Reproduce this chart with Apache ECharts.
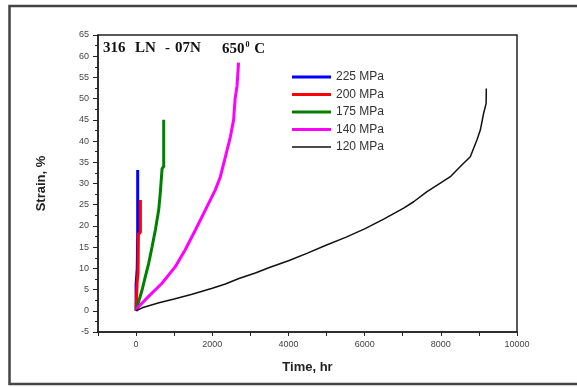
<!DOCTYPE html>
<html>
<head>
<meta charset="utf-8">
<script src="https://cdn.jsdelivr.net/npm/echarts@6/dist/echarts.min.js"></script>
<style>html,body{margin:0;padding:0;background:#fff}#c{width:577px;height:387px}</style>
</head>
<body>
<div id="c"></div>
<script>
// Series names
var seriesNames = ['225 MPa', '200 MPa', '175 MPa', '140 MPa', '120 MPa'];
// 225 MPa
var t225 = [0, 0, 0, 30, 42, 42];
var s225 = [0, 3, 6.2, 10, 18, 33.2];
// 200 MPa
var t200 = [0, 26, 52, 60, 113, 113];
var s200 = [0, 6.5, 9, 18, 18.5, 26.1];
// 175 MPa
var t175 = [0, 70, 157, 244, 331, 420, 507, 594, 638, 682, 725, 725];
var s175 = [0, 2.2, 4.9, 8.1, 11.2, 15.1, 19.1, 23.8, 28.1, 33.5, 34, 45];
// 140 MPa
var t140 = [0, 70, 330, 680, 1030, 1290, 1560, 1820, 2080, 2213, 2344, 2475, 2560, 2600, 2650, 2690];
var s140 = [0, 1.0, 3.4, 6.5, 10.4, 14.4, 19.1, 23.8, 28.5, 31.6, 36.3, 41, 45, 50, 53, 58.5];
// 120 MPa
var t120 = [0, 50, 160, 600, 1000, 1470, 2000, 2344, 2700, 3131, 3500, 4000, 4500, 5000, 5500, 6000, 6500, 7024, 7286, 7638, 7987, 8250, 8512, 8774, 8950, 9037, 9123, 9190, 9194];
var s120 = [0, 0.4, 0.7, 1.9, 2.8, 3.9, 5.3, 6.3, 7.6, 8.9, 10.2, 11.8, 13.6, 15.5, 17.3, 19.3, 21.6, 24.2, 25.7, 28.1, 30.1, 31.6, 34.0, 36.3, 40.3, 42.6, 46.5, 48.9, 52.4];
// Axis settings
var xMin = -1000, xMax = 10000, xStep = 1000;
var yMin = -5, yMax = 65, yStep = 5;

var allT = [t225, t200, t175, t140, t120];
var allS = [s225, s200, s175, s140, s120];
var colors = ['#0000ff', '#ff0000', '#008000', '#ff00ff', '#111111'];
var widths = [3, 3, 3, 3, 1.5];

function pairs(t, s) { return t.map(function (v, i) { return [v, s[i]]; }); }

var series = seriesNames.map(function (n, i) {
  return {
    name: n, type: 'line', data: pairs(allT[i], allS[i]),
    symbol: 'none', smooth: false, animation: false,
    lineStyle: { color: colors[i], width: widths[i] },
    itemStyle: { color: colors[i] }
  };
});

var legendData = seriesNames.map(function (n, i) {
  return { name: n, icon: 'path://M0,0H40V' + widths[i] + 'H0Z' };
});

var font = 'Arial, "Liberation Sans", sans-serif';
var serif = 'bold 15px "Liberation Serif", "Times New Roman", serif';

var chart = echarts.init(document.getElementById('c'));
chart.setOption({
  backgroundColor: '#fff',
  animation: false,
  grid: { left: 98, top: 35, right: 60, bottom: 55, show: true, borderColor: '#222', borderWidth: 1.5 },
  legend: {
    orient: 'vertical', left: 292, top: 71, padding: 0, itemGap: 5.5,
    itemWidth: 39, itemHeight: 12, symbolKeepAspect: true,
    textStyle: { fontFamily: font, fontSize: 12, color: '#333' },
    data: legendData
  },
  xAxis: {
    type: 'value', min: xMin, max: xMax, interval: xStep,
    name: 'Time, hr', nameLocation: 'middle', nameGap: 29,
    nameTextStyle: { fontFamily: font, fontWeight: 'bold', fontSize: 13, color: '#222' },
    axisLine: { onZero: false, lineStyle: { color: '#222', width: 1.5 } },
    axisTick: { inside: false, length: 4, lineStyle: { color: '#222', width: 1 } },
    axisLabel: {
      margin: 8, fontSize: 9, color: '#444', fontFamily: font,
      formatter: function (v) { return (v >= 0 && v % 2000 === 0) ? String(v) : ''; }
    },
    splitLine: { show: false }
  },
  yAxis: {
    type: 'value', min: yMin, max: yMax, interval: yStep,
    name: 'Strain, %', nameLocation: 'middle', nameGap: 50, nameRotate: 90,
    nameTextStyle: { fontFamily: font, fontWeight: 'bold', fontSize: 13, color: '#222' },
    axisLine: { show: true, onZero: false, lineStyle: { color: '#222', width: 1.5 } },
    axisTick: { inside: false, length: 5, lineStyle: { color: '#222', width: 1 } },
    minorTick: { show: true, splitNumber: 2, length: 3, lineStyle: { color: '#222', width: 1 } },
    axisLabel: { margin: 9, fontSize: 9, color: '#444', fontFamily: font },
    splitLine: { show: false }
  },
  graphic: [
    { type: 'rect', shape: { x: 9.5, y: 6, width: 620, height: 378 }, style: { fill: 'none', stroke: '#444', lineWidth: 2.5 }, silent: true, z: -1 },
    { type: 'text', left: 103, top: 41, style: { text: '316', font: serif, fill: '#111' } },
    { type: 'text', left: 135, top: 41, style: { text: 'LN', font: serif, fill: '#111' } },
    { type: 'text', left: 165, top: 41, style: { text: '-', font: serif, fill: '#111' } },
    { type: 'text', left: 175, top: 41, style: { text: '07N', font: serif, fill: '#111' } },
    { type: 'text', left: 222, top: 41, style: {
        text: '650{sup|0} C',
        font: serif, fill: '#111',
        rich: { sup: { fontSize: 8, fontWeight: 'bold', fontFamily: 'Liberation Serif', verticalAlign: 'top', padding: [0, 1, 8, 1], fill: '#111' } }
      } }
  ],
  series: series
});
</script>
</body>
</html>
